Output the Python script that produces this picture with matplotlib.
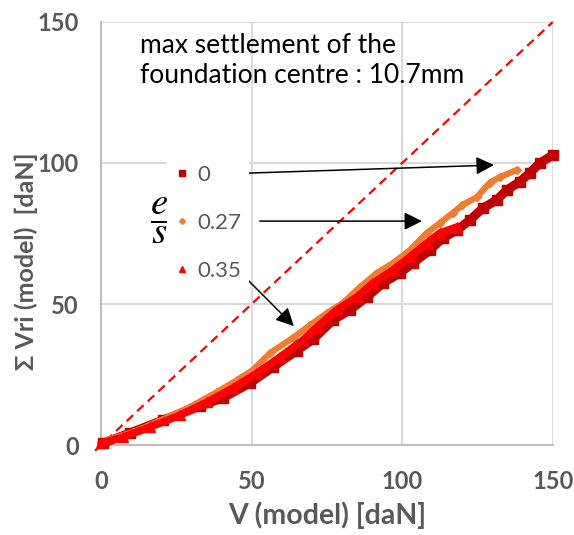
import matplotlib
matplotlib.use("Agg")
import matplotlib.pyplot as plt
from matplotlib.lines import Line2D

plt.rcParams['font.family'] = ['Lato', 'DejaVu Sans']
plt.rcParams['mathtext.fontset'] = 'stix'

# series: e/s = 0, 0.27, 0.35  (V model vs sum of Vri model, daN)
v_0 = [0.7, 9.6, 20.6, 32.9, 40.5, 49.5, 57.1, 65.0, 70.4, 77.0, 82.6, 88.3,
       93.6, 99.2, 103.5, 109.2, 113.5, 118.2, 122.5, 126.8, 131.4, 134.7,
       139.0, 142.4, 145.7, 150.0]
vri_0 = [0.7, 4.3, 8.9, 13.8, 16.8, 22.0, 27.7, 33.5, 37.5, 44.3, 47.9, 52.5,
         57.4, 61.0, 64.5, 69.1, 73.4, 76.2, 79.8, 84.0, 86.9, 90.4,
         93.3, 96.5, 100.0, 102.8]

v_027 = [2.0, 10.6, 18.6, 29.5, 38.5, 45.1, 50.4, 56.1, 63.7, 69.4, 75.0, 80.3,
         86.0, 91.6, 96.9, 102.6, 108.2, 112.5, 116.8, 120.0, 124.8, 129.0,
         132.4, 138.0]
vri_027 = [1.8, 4.6, 8.2, 13.5, 18.8, 23.0, 26.6, 32.6, 38.0, 42.5, 46.8, 50.4,
           56.0, 61.0, 64.5, 69.1, 75.2, 78.7, 82.3, 85.1, 87.9, 92.9,
           95.0, 97.5]

v_035 = [0.0, 7.3, 16.3, 26.2, 35.2, 43.8, 51.8, 59.4, 67.0, 71.7, 78.3, 85.0,
         90.3, 96.9, 102.6, 108.2, 112.5, 118.2]
vri_035 = [0.7, 2.8, 6.4, 10.6, 15.2, 20.2, 25.5, 31.2, 37.2, 41.8, 47.9, 52.5,
           57.4, 62.0, 66.7, 71.6, 75.2, 77.3]

ticks = [0, 50, 100, 150]
labels = ['0', '0.27', '0.35']
colors = ['#C00000', '#ED7D31', '#FF0000']
markers = ['s', 'D', '^']

fig, ax = plt.subplots(figsize=(5.74, 5.35), dpi=100)
fig.subplots_adjust(left=0.176, right=0.963, bottom=0.168, top=0.959)

# y = x reference
ax.plot([-2, 150], [-2, 150], color='#FF0000', lw=1.6, ls=(0, (4, 2.5)),
        clip_on=False, zorder=2)

series = [(v_0, vri_0), (v_027, vri_027), (v_035, vri_035)]
for (x, y), c, m, lw, ms in zip(series, colors, markers, [6.5, 4.5, 5.5], [7, 4.5, 7]):
    ax.plot(x, y, color=c, lw=lw, marker=m, ms=ms, solid_capstyle='round',
            solid_joinstyle='round', clip_on=False, zorder=3)

ax.set_xlim(0, 150)
ax.set_ylim(0, 150)
ax.set_xticks(ticks)
ax.set_yticks(ticks)
ax.grid(True, color='#D9D9D9', lw=1.4)
ax.set_axisbelow(True)
for s in ['top', 'right']:
    ax.spines[s].set_visible(False)
for s in ['left', 'bottom']:
    ax.spines[s].set_color('#BFBFBF')
    ax.spines[s].set_linewidth(1.5)
ax.tick_params(length=0, labelsize=17, labelcolor='#595959')
ax.tick_params(axis='x', pad=18)
ax.tick_params(axis='y', pad=16)
for t in ax.get_xticklabels() + ax.get_yticklabels():
    t.set_fontweight('bold')

ax.set_xlabel('V (model) [daN]', fontsize=20.5, fontweight='bold', color='#595959', labelpad=6)
ax.set_ylabel('Σ Vri (model)  [daN]', fontsize=18, fontweight='bold', color='#595959')
ax.yaxis.set_label_coords(-0.14, 0.435)

handles = [Line2D([], [], ls='none', marker=m, color=c, ms=ms)
           for m, c, ms in zip(markers, colors, [5, 3, 5])]
leg = ax.legend(handles, labels, loc='upper left', bbox_to_anchor=(0.145, 0.68),
                frameon=True, framealpha=1, edgecolor='none', fontsize=16,
                handlelength=0.7, handletextpad=0.35, labelspacing=1.25,
                borderpad=0.35, borderaxespad=0)
for t in leg.get_texts():
    t.set_color('#595959')

ax.text(19.6, 79.4, r'$\dfrac{e}{s}$', fontsize=28, ha='center', va='center')

ax.text(12.9, 136.5, 'max settlement of the\nfoundation centre : 10.7mm',
        fontsize=19, ha='left', va='center', linespacing=1.25)

arrow = dict(arrowstyle='-|>', color='black', lw=1.1, mutation_scale=27)
ax.annotate('', xy=(131.4, 99.3), xytext=(39.8, 96.1), arrowprops=arrow)
ax.annotate('', xy=(107.5, 79.4), xytext=(51.8, 79.4), arrowprops=arrow)
ax.annotate('', xy=(64.7, 41.5), xytext=(47.1, 60.3), arrowprops=arrow)

plt.savefig('out.png', dpi=100)
